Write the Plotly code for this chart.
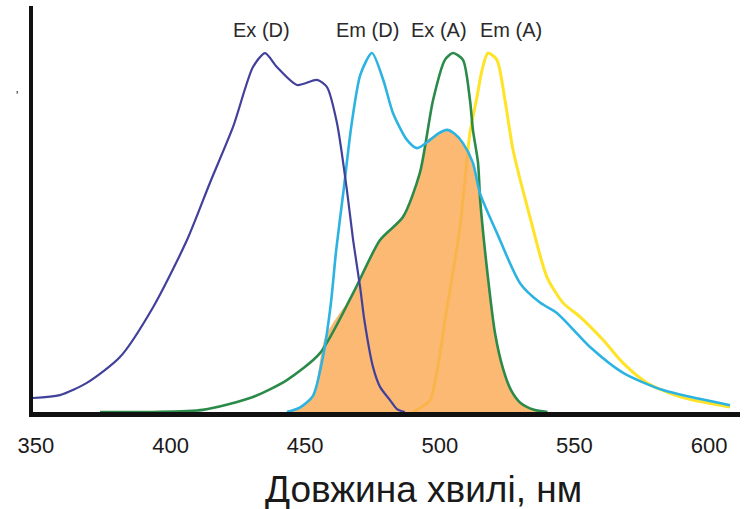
import plotly.graph_objects as go

# ---- data (wavelength in nm, normalised intensity) ----
exd_x = [348.9, 358.9, 368.9, 381.2, 393.5, 406.1, 414.6, 423.2, 430.6, 435.1, 439.5, 447.0,
         454.4, 458.1, 461.8, 465.5, 467.8, 470.4, 472.0, 475.2, 477.8, 481.5, 484.1, 487.0]
exd_y = [0.039, 0.047, 0.081, 0.153, 0.292, 0.479, 0.638, 0.794, 0.961, 1.0, 0.961, 0.911,
         0.925, 0.905, 0.805, 0.618, 0.479, 0.348, 0.255, 0.125, 0.070, 0.033, 0.008, 0.0]

emd_x = [443.2, 448.0, 452.9, 456.5, 459.5, 461.5, 464.3, 467.2, 470.5, 474.8, 479.0, 482.6,
         487.8, 491.5, 496.4, 499.5, 502.7, 505.5, 508.6, 512.3, 514.9, 521.2, 529.8, 537.2,
         543.5, 555.8, 568.1, 582.9, 607.8]
emd_y = [0.0, 0.012, 0.045, 0.15, 0.30, 0.45, 0.62, 0.80, 0.94, 1.0, 0.925, 0.833,
         0.758, 0.735, 0.758, 0.776, 0.786, 0.775, 0.749, 0.694, 0.610, 0.499, 0.359, 0.305,
         0.276, 0.181, 0.109, 0.061, 0.019]

exa_x = [373.8, 393.5, 412.0, 430.6, 443.2, 455.5, 467.8, 477.8, 486.3, 492.6, 497.5, 501.9,
         504.9, 508.6, 511.2, 512.3, 514.2, 515.0, 517.5, 520.5, 523.5, 526.5, 530.0, 535.0, 540.0]
exa_y = [0.0, 0.0, 0.006, 0.042, 0.089, 0.164, 0.331, 0.479, 0.543, 0.666, 0.869, 0.981,
         1.0, 0.981, 0.869, 0.786, 0.694, 0.59, 0.40, 0.22, 0.12, 0.06, 0.025, 0.006, 0.0]

ema_x = [490.0, 492.6, 496.4, 502.7, 507.5, 511.2, 513.8, 515.7, 517.9, 521.2, 524.2, 527.2,
         533.5, 539.8, 545.8, 552.1, 560.6, 568.1, 577.0, 589.2, 607.8]
ema_y = [0.0, 0.011, 0.033, 0.292, 0.515, 0.777, 0.877, 0.953, 1.0, 0.981, 0.869, 0.730,
         0.543, 0.376, 0.304, 0.265, 0.201, 0.136, 0.081, 0.042, 0.014]

# spectral overlap (orange area)
ovl_x = [443.2, 448.0, 452.9, 457.4, 467.8, 477.8, 486.3, 492.6, 495.0, 499.5, 502.7, 505.5,
         508.6, 512.3, 514.7, 517.5, 520.5, 523.5, 526.5, 530.0, 535.0, 540.0]
ovl_y = [0.0, 0.012, 0.045, 0.209, 0.331, 0.479, 0.543, 0.666, 0.755, 0.776, 0.786, 0.775,
         0.749, 0.694, 0.62, 0.40, 0.22, 0.12, 0.06, 0.025, 0.006, 0.0]

peak_labels = ["Ex (D)", "Em (D)", "Ex (A)", "Em (A)"]
label_x = [433.9, 473.0, 499.7, 526.4]
label_y = 1.064

tick_vals = [350, 400, 450, 500, 550, 600]
x_title = "Довжина хвилі, нм"

FONT = "Liberation Sans, Arial, sans-serif"

fig = go.Figure()

fig.add_trace(go.Scatter(x=ema_x, y=ema_y, mode="lines",
                         line=dict(color="#ffe326", width=3, shape="spline", smoothing=0.7),
                         hoverinfo="skip", name="Em (A)"))
fig.add_trace(go.Scatter(x=ovl_x, y=ovl_y, mode="lines", fill="tozeroy",
                         fillcolor="rgba(250,170,85,0.82)",
                         line=dict(width=0, shape="spline", smoothing=0.7),
                         hoverinfo="skip", name="overlap"))
fig.add_trace(go.Scatter(x=exa_x, y=exa_y, mode="lines",
                         line=dict(color="#2a8a4a", width=2.6, shape="spline", smoothing=0.7),
                         hoverinfo="skip", name="Ex (A)"))
fig.add_trace(go.Scatter(x=emd_x, y=emd_y, mode="lines",
                         line=dict(color="#2cb3e2", width=2.6, shape="spline", smoothing=0.7),
                         hoverinfo="skip", name="Em (D)"))
fig.add_trace(go.Scatter(x=exd_x, y=exd_y, mode="lines",
                         line=dict(color="#41419b", width=2.2, shape="spline", smoothing=0.7),
                         hoverinfo="skip", name="Ex (D)"))

for t, xv in zip(peak_labels, label_x):
    fig.add_annotation(x=xv, y=label_y, text=t, showarrow=False,
                       xanchor="center", yanchor="middle",
                       font=dict(family=FONT, size=20, color="#2a2a2a"))

fig.add_annotation(xref="paper", yref="paper", x=0.553, y=-0.19, text=x_title,
                   showarrow=False, xanchor="center", yanchor="middle",
                   font=dict(family=FONT, size=37, color="#1a1a1a"))

fig.add_annotation(xref="paper", yref="paper", x=-0.027, y=0.80, text="'",
                   showarrow=False, font=dict(family=FONT, size=12, color="#222"))

fig.update_layout(
    width=748, height=509,
    margin=dict(l=33, r=8, t=6, b=97),
    paper_bgcolor="white", plot_bgcolor="white",
    showlegend=False,
    xaxis=dict(range=[348.9, 611.5], tickvals=tick_vals, ticks="", showgrid=False,
               zeroline=False, showline=True, linecolor="#111111", linewidth=5,
               tickfont=dict(family=FONT, size=22, color="#1a1a1a"),
               ticklabelstandoff=10, fixedrange=True),
    yaxis=dict(range=[0, 1.131], showticklabels=False, ticks="", showgrid=False,
               zeroline=False, showline=True, linecolor="#111111", linewidth=4,
               fixedrange=True),
)

fig.write_html("out.html")
